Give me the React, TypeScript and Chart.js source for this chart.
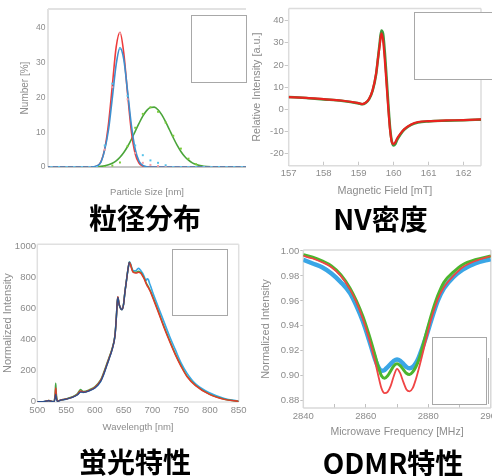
import React, { useEffect, useRef } from 'react';
import { Chart, registerables } from 'chart.js';

Chart.register(...registerables);

// ---------- Panel 1: particle size distribution ----------
const PS_DOT_X = [0, 1, 2, 3, 4, 5, 6, 7, 8, 9, 10, 11, 12, 13, 14, 15, 16, 17, 18, 19, 20, 21, 22, 23, 24, 25];
const PS_BLUE_DOTS = [0, 0, 0, 0, 0, 0, 0, 6.2, 24, 34, 20.5, 6.2, 3.4, 1.9, 1.2, 0.5, 0, 0, 0, 0, 0, 0, 0, 0, 0, 0];
const PS_RED_DOTS = [0, 0, 0, 0, 0, 0, 0, 5, 23, 38.5, 19.5, 4, 1.2, 0.6, 0.3, 0, 0, 0, 0, 0, 0, 0, 0, 0, 0, 0];
const PS_GREEN_DOTS = [0, 0, 0, 0, 0, 0, 0, 0, 0.4, 1.3, 6, 11.3, 15.3, 17.2, 15.9, 12.8, 9, 5.3, 2.4, 0.8, 0, 0, 0, 0, 0, 0];
const PS_CURVE_X = [-0.45, 4, 5, 5.5, 6, 6.5, 7, 7.5, 8, 8.5, 9, 9.5, 10, 10.5, 11, 11.5, 12, 12.5, 13, 13.5, 14, 14.5, 15, 15.5, 16, 16.5, 17, 17.5, 18, 18.5, 19, 19.5, 20, 21, 22, 25.55];
const PS_RED_CURVE = [0, 0, 0, 0.05, 0.3, 1.5, 5.2, 12.5, 23.5, 34.5, 38.8, 32.8, 21.1, 10.2, 3.8, 1.1, 0.25, 0.03, 0, 0, 0, 0, 0, 0, 0, 0, 0, 0, 0, 0, 0, 0, 0, 0, 0, 0];
const PS_BLUE_CURVE = [0, 0, 0, 0.06, 0.35, 1.4, 5.0, 10.8, 20.0, 29.5, 34.3, 31.0, 21.8, 12.0, 5.1, 1.7, 0.45, 0.09, 0, 0, 0, 0, 0, 0, 0, 0, 0, 0, 0, 0, 0, 0, 0, 0, 0, 0];
const PS_GREEN_CURVE = [0, 0, 0.01, 0.03, 0.09, 0.18, 0.34, 0.62, 1.08, 1.78, 2.79, 4.16, 5.9, 7.98, 10.26, 12.56, 14.64, 16.24, 17.15, 17.23, 16.48, 15.0, 13.0, 10.73, 8.42, 6.29, 4.48, 3.03, 1.95, 1.2, 0.7, 0.39, 0.21, 0.05, 0, 0];
const PS_Y_TICKS = [0, 10, 20, 30, 40];

// ---------- Panel 2: EPR (NV density) ----------
const EPR_X = [157, 157.5, 158, 158.5, 159, 159.1, 159.2, 159.3, 159.4, 159.5, 159.55, 159.6, 159.65, 159.7, 159.75, 159.8, 159.85, 159.9, 159.95, 160, 160.05, 160.1, 160.2, 160.3, 160.5, 160.7, 161, 161.5, 162, 162.5];
const EPR_RED = [5.5, 5.2, 4.6, 4.0, 2.8, 2.4, 3.0, 4.8, 8.7, 16.2, 22.5, 28.5, 34.3, 31.0, 22.0, 11.0, 0.0, -9.5, -14.8, -15.6, -14.8, -13.1, -10.8, -9.0, -6.8, -5.7, -5.3, -5.0, -4.8, -4.5];
const EPR_GREEN = [5.6, 5.1, 4.5, 3.9, 2.7, 2.3, 2.9, 4.6, 8.4, 15.8, 22.5, 29.5, 35.6, 34.0, 25.5, 14.0, 2.0, -8.5, -14.5, -16.3, -15.6, -13.8, -11.2, -9.2, -7.0, -5.9, -5.4, -5.1, -4.9, -4.6];
const EPR_X_TICKS = [157, 158, 159, 160, 161, 162];
const EPR_Y_TICKS = [-20, -10, 0, 10, 20, 30, 40];

// ---------- Panel 3: fluorescence spectrum ----------
const PL_X = [500, 510, 520, 525, 529, 531, 532, 533, 535, 540, 550, 560, 570, 575, 578, 580, 590, 600, 610, 615, 620, 625, 630, 635, 637, 639, 640, 642, 645, 647, 650, 652, 655, 658, 660, 662, 664, 666, 668, 670, 673, 676, 678, 680, 683, 686, 689, 691, 693, 695, 697, 700, 710, 720, 730, 740, 750, 760, 775, 800, 825, 850];
const PL_RED = [0, 0, 7, 2, 0, 40, 88, 40, 3, 10, 17, 28, 48, 68, 66, 62, 72, 92, 135, 178, 230, 282, 338, 425, 520, 640, 675, 630, 600, 592, 628, 695, 780, 860, 895, 880, 855, 835, 830, 828, 828, 832, 830, 826, 808, 788, 760, 745, 733, 718, 703, 675, 579, 479, 387, 301, 226, 162, 103, 45, 15, 2];
const PL_GREEN = [0, 0, 7, 2, 0, 55, 118, 55, 3, 10, 18, 30, 52, 78, 70, 65, 76, 96, 140, 184, 236, 288, 342, 428, 522, 640, 672, 628, 598, 592, 630, 698, 782, 862, 897, 882, 858, 838, 834, 832, 834, 838, 835, 830, 812, 792, 766, 752, 740, 724, 708, 681, 585, 485, 393, 306, 231, 166, 106, 47, 16, 2];
const PL_LIGHTBLUE = [0, 0, 6, 2, 0, 25, 48, 25, 2, 9, 16, 27, 45, 62, 62, 60, 70, 88, 130, 172, 225, 278, 335, 425, 520, 640, 670, 628, 598, 592, 628, 695, 780, 860, 900, 888, 865, 845, 842, 842, 848, 858, 852, 842, 826, 802, 778, 790, 785, 762, 742, 708, 611, 515, 419, 333, 248, 184, 115, 56, 21, 3];
const PL_NAVY_X = [500, 510, 520, 525, 529, 531, 532, 533, 535, 540, 550, 560, 570, 575, 578, 580, 590, 600, 610, 615, 620, 625, 630, 635, 637, 639, 640, 642, 645, 647, 650, 652, 655, 658, 660];
const PL_NAVY = [0, 0, 6, 2, 0, 25, 48, 25, 2, 9, 16, 27, 45, 62, 62, 60, 70, 88, 130, 172, 225, 278, 335, 425, 520, 640, 670, 628, 598, 592, 628, 695, 780, 860, 898];
const PL_X_TICKS = [500, 550, 600, 650, 700, 750, 800, 850];
const PL_Y_TICKS = [0, 200, 400, 600, 800, 1000];
const PL_Y_LABELS = ['0', '200', '400', '600', '800', '1000'];

// ---------- Panel 4: ODMR ----------
const OD_X = [2840, 2843, 2846, 2849, 2852, 2855, 2857, 2859, 2861, 2863, 2864, 2865, 2866, 2867, 2868, 2869, 2870, 2871, 2872, 2873, 2874, 2875, 2876, 2877, 2879, 2881, 2883, 2885, 2888, 2891, 2895, 2900];
const OD_RED = [0.996, 0.994, 0.991, 0.987, 0.980, 0.969, 0.959, 0.946, 0.930, 0.911, 0.900, 0.890, 0.886, 0.887, 0.892, 0.900, 0.9055, 0.902, 0.895, 0.889, 0.8875, 0.890, 0.897, 0.906, 0.926, 0.946, 0.961, 0.971, 0.980, 0.987, 0.992, 0.996];
const OD_GREEN = [0.997, 0.995, 0.992, 0.988, 0.981, 0.970, 0.960, 0.948, 0.933, 0.916, 0.907, 0.900, 0.898, 0.900, 0.904, 0.908, 0.9095, 0.908, 0.905, 0.902, 0.901, 0.903, 0.907, 0.913, 0.931, 0.949, 0.964, 0.975, 0.983, 0.989, 0.993, 0.996];
const OD_BLUE = [0.993, 0.990, 0.987, 0.982, 0.975, 0.966, 0.956, 0.944, 0.929, 0.913, 0.907, 0.904, 0.9045, 0.907, 0.9095, 0.912, 0.913, 0.912, 0.9095, 0.907, 0.906, 0.907, 0.910, 0.915, 0.929, 0.945, 0.960, 0.970, 0.979, 0.985, 0.990, 0.9935];
const OD_X_TICKS = [2840, 2850, 2860, 2870, 2880, 2890, 2900];
const OD_X_LABELS = ['2840', '', '2860', '', '2880', '', '2900'];
const OD_Y_TICKS = [0.88, 0.9, 0.92, 0.94, 0.96, 0.98, 1.0];
const OD_Y_LABELS = ['0.88', '0.90', '0.92', '0.94', '0.96', '0.98', '1.00'];

// ---------- helpers ----------
const FONT = '"Liberation Sans", Arial, sans-serif';
const NARROW = '"Liberation Sans Narrow", "Liberation Sans", Arial, sans-serif';
const GREY = '#8c8c8c';

const pts = (xs: number[], ys: number[]) => xs.map((x, i) => ({ x, y: ys[i] }));
const fixAxis = (size: number, horizontal: boolean) => (s: any) => {
  if (horizontal) s.height = size; else s.width = size;
  s.paddingLeft = 0; s.paddingRight = 0; s.paddingTop = 0; s.paddingBottom = 0;
};
const setTicks = (values: number[]) => (s: any) => { s.ticks = values.map((v) => ({ value: v })); };

const framePlugin = {
  id: 'frame',
  beforeDatasetsDraw(chart: any, _args: any, opts: any) {
    const { ctx, chartArea: a } = chart;
    ctx.save();
    ctx.lineWidth = opts.width || 1.5;
    const sides: string = opts.sides || 'tlbr';
    const seg = (x1: number, y1: number, x2: number, y2: number, c: string) => {
      ctx.strokeStyle = c; ctx.beginPath(); ctx.moveTo(x1, y1); ctx.lineTo(x2, y2); ctx.stroke();
    };
    if (sides.includes('t')) seg(a.left, a.top, a.right, a.top, opts.color);
    if (sides.includes('l')) seg(a.left, a.top, a.left, a.bottom, opts.color);
    if (sides.includes('r')) seg(a.right, a.top, a.right, a.bottom, opts.color);
    if (sides.includes('b')) seg(a.left, a.bottom, a.right, a.bottom, opts.bottomColor || opts.color);
    ctx.restore();
  },
};

const NO_GRID = { display: false, drawTicks: false, drawOnChartArea: false };

const lineDs = (data: any[], color: string, width: number, order: number) => ({
  data, borderColor: color, backgroundColor: color, borderWidth: width, pointRadius: 0,
  cubicInterpolationMode: 'monotone', fill: false, order,
});
const dotDs = (data: any[], color: string, order: number) => ({
  data, showLine: false, pointStyle: 'rect', pointRadius: 1.4, pointBorderWidth: 0,
  pointBackgroundColor: color, borderColor: color, backgroundColor: color, order,
});

const baseOptions = (padding: any, frame: any, scales: any) => ({
  animation: false, responsive: false, maintainAspectRatio: false, events: [],
  layout: { padding },
  plugins: { legend: { display: false }, tooltip: { enabled: false }, frame },
  scales,
});

// ---------- configs ----------
const cfgParticle = () => ({
  type: 'line',
  data: {
    datasets: [
      lineDs(pts(PS_CURVE_X, PS_GREEN_CURVE), '#4aa53a', 1.6, 9),
      dotDs(pts(PS_DOT_X, PS_GREEN_DOTS), '#7ccc3c', 8),
      lineDs(pts(PS_CURVE_X, PS_RED_CURVE), '#ee3b3b', 1.6, 7),
      lineDs(pts(PS_CURVE_X, PS_BLUE_CURVE), '#3d8fcf', 1.6, 6),
      dotDs(pts(PS_DOT_X, PS_RED_DOTS), '#f3a0a6', 5),
      dotDs(pts(PS_DOT_X, PS_BLUE_DOTS), '#55c2ea', 4),
    ],
  },
  options: baseOptions({ left: 0, top: 9, right: 0, bottom: 0 },
    { color: '#e2e2e2', bottomColor: '#c6c6c6', width: 2, sides: 'tlb' },
    {
      x: {
        type: 'linear', min: -0.45, max: 25.55,
        ticks: { display: false }, grid: NO_GRID, border: { display: false },
        title: { display: true, text: 'Particle Size [nm]', color: GREY, font: { family: FONT, size: 9.5 }, padding: { top: 0, bottom: 1.5 } },
        afterFit: fixAxis(33, true),
      },
      y: {
        type: 'linear', min: 0, max: 45.5,
        afterBuildTicks: setTicks(PS_Y_TICKS),
        ticks: { color: GREY, font: { family: FONT, size: 8.5 }, padding: 2.5 },
        grid: NO_GRID, border: { display: false },
        title: { display: true, text: 'Number [%]', color: GREY, font: { family: FONT, size: 10 }, padding: { top: 19, bottom: 0 } },
        afterFit: fixAxis(48, false),
      },
    }),
  plugins: [framePlugin],
});

const cfgEPR = () => ({
  type: 'line',
  data: {
    datasets: [
      lineDs(pts(EPR_X, EPR_GREEN), '#3d9a3d', 2.6, 2),
      lineDs(pts(EPR_X, EPR_RED), '#e8231f', 2.2, 1),
    ],
  },
  options: baseOptions({ left: 0, top: 8.5, right: 11, bottom: 0 },
    { color: '#dcdcdc', width: 1.5, sides: 'tlbr' },
    {
      x: {
        type: 'linear', min: 157, max: 162.5,
        afterBuildTicks: setTicks(EPR_X_TICKS),
        ticks: { color: GREY, font: { family: FONT, size: 9.5 }, padding: 6, maxRotation: 0 },
        grid: { display: true, drawOnChartArea: false, drawTicks: true, tickLength: -4, color: '#c8c8c8' },
        border: { display: false },
        title: { display: true, text: 'Magnetic Field [mT]', color: GREY, font: { family: FONT, size: 10.8 }, padding: { top: 0, bottom: 2.6 } },
        afterFit: fixAxis(34.3, true),
      },
      y: {
        type: 'linear', min: -25.4, max: 45.5,
        afterBuildTicks: setTicks(EPR_Y_TICKS),
        ticks: { color: GREY, font: { family: FONT, size: 9.5 }, padding: 1 },
        grid: { display: true, drawOnChartArea: false, drawTicks: true, tickLength: 4, color: '#c8c8c8' },
        border: { display: false },
        title: { display: true, text: 'Relative Intensity [a.u.]', color: GREY, font: { family: FONT, size: 10.8 }, padding: { top: 0.2, bottom: 0 } },
        afterFit: fixAxis(38.7, false),
      },
    }),
  plugins: [framePlugin],
});

const cfgPL = () => ({
  type: 'line',
  data: {
    datasets: [
      lineDs(pts(PL_X, PL_LIGHTBLUE), '#3aa6e6', 1.6, 4),
      lineDs(pts(PL_X, PL_GREEN), '#45a545', 1.5, 3),
      lineDs(pts(PL_X, PL_RED), '#e03a2a', 1.5, 2),
      lineDs(pts(PL_NAVY_X, PL_NAVY), '#2d4f8c', 1.3, 1),
    ],
  },
  options: baseOptions({ left: 0, top: 8.3, right: 11.3, bottom: 0 },
    { color: '#e0e0e0', width: 1.5, sides: 'tlbr' },
    {
      x: {
        type: 'linear', min: 500, max: 850,
        afterBuildTicks: setTicks(PL_X_TICKS),
        ticks: { color: GREY, font: { family: NARROW, size: 9.5 }, padding: 3, maxRotation: 0 },
        grid: NO_GRID, border: { display: false },
        title: { display: true, text: 'Wavelength [nm]', color: GREY, font: { family: NARROW, size: 9.5 }, padding: { top: 0, bottom: 42.5 } },
        afterFit: fixAxis(74, true),
      },
      y: {
        type: 'linear', min: -2, max: 1012,
        afterBuildTicks: setTicks(PL_Y_TICKS),
        ticks: { color: GREY, font: { family: NARROW, size: 9.5 }, padding: 1.3, callback: (_v: any, i: number) => PL_Y_LABELS[i] },
        grid: NO_GRID, border: { display: false },
        title: { display: true, text: 'Normalized Intensity', color: GREY, font: { family: FONT, size: 11 }, padding: { top: 1.7, bottom: 0 } },
        afterFit: fixAxis(37.3, false),
      },
    }),
  plugins: [framePlugin],
});

const cfgODMR = () => ({
  type: 'line',
  data: {
    datasets: [
      lineDs(pts(OD_X, OD_BLUE), '#3aa6e6', 4.5, 3),
      lineDs(pts(OD_X, OD_GREEN), '#4cb52e', 3, 2),
      lineDs(pts(OD_X, OD_RED), '#f04545', 1.8, 1),
    ],
  },
  options: baseOptions({ left: 0, top: 14, right: 19.2, bottom: 0 },
    { color: '#d8d8d8', width: 1.5, sides: 'tlbr' },
    {
      x: {
        type: 'linear', min: 2840, max: 2900,
        afterBuildTicks: setTicks(OD_X_TICKS),
        ticks: { color: GREY, font: { family: FONT, size: 9.5 }, padding: 6.3, maxRotation: 0, autoSkip: false, callback: (_v: any, i: number) => OD_X_LABELS[i] },
        grid: { display: true, drawOnChartArea: false, drawTicks: true, tickLength: -4, color: '#c0c0c0' },
        border: { display: false },
        title: { display: true, text: 'Microwave Frequency [MHz]', color: GREY, font: { family: FONT, size: 10.5 }, padding: { top: 0, bottom: 37.3 } },
        afterFit: fixAxis(68, true),
      },
      y: {
        type: 'linear', min: 0.8741, max: 1.0008,
        afterBuildTicks: setTicks(OD_Y_TICKS),
        ticks: { color: GREY, font: { family: FONT, size: 9.5 }, padding: 1, callback: (_v: any, i: number) => OD_Y_LABELS[i] },
        grid: { display: true, drawOnChartArea: false, drawTicks: true, tickLength: 3, color: '#c0c0c0' },
        border: { display: false },
        title: { display: true, text: 'Normalized Intensity', color: GREY, font: { family: FONT, size: 11 }, padding: { top: 9.1, bottom: 0 } },
        afterFit: fixAxis(53.3, false),
      },
    }),
  plugins: [framePlugin],
});

function ChartCanvas({ left, top, width, height, build }: any) {
  const ref = useRef<HTMLCanvasElement>(null);
  useEffect(() => {
    const chart = new Chart(ref.current as HTMLCanvasElement, build());
    return () => chart.destroy();
  }, []);
  return (
    <canvas ref={ref} width={width} height={height}
      style={{ position: 'absolute', left, top, width, height, display: 'block' }} />
  );
}

function LegendBox({ left, top, width, height }: any) {
  return (
    <div style={{ position: 'absolute', left, top, width, height, boxSizing: 'border-box', border: '1px solid #a8a8a8', background: '#fff' }} />
  );
}

function Caption({ text, cx, cy }: any) {
  return (
    <div style={{
      position: 'absolute', left: cx - 120, top: cy - 15, width: 240, textAlign: 'center',
      fontFamily: '"Noto Sans CJK JP", "Noto Sans CJK SC", sans-serif', fontWeight: 700,
      fontSize: 28, lineHeight: '28px', color: '#000', whiteSpace: 'nowrap',
    }}>{text}</div>
  );
}

export default function App() {
  return (
    <div style={{ position: 'fixed', left: 0, top: 0, width: 492, height: 476, overflow: 'hidden', background: '#fff' }}>
      <ChartCanvas left={0} top={0} width={250} height={200} build={cfgParticle} />
      <ChartCanvas left={250} top={0} width={242} height={200} build={cfgEPR} />
      <ChartCanvas left={0} top={236} width={250} height={240} build={cfgPL} />
      <ChartCanvas left={250} top={236} width={260} height={240} build={cfgODMR} />
      <LegendBox left={190.7} top={15} width={56} height={68} />
      <LegendBox left={413.7} top={11.7} width={100} height={68} />
      <LegendBox left={172} top={249} width={56} height={67} />
      <LegendBox left={431.5} top={336.5} width={55.2} height={68} />
      <div style={{ position: 'absolute', left: 488, top: 358, width: 1, height: 46, background: '#b0b0b0' }} />
      <Caption text="粒径分布" cx={145} cy={218} />
      <Caption text="NV密度" cx={380.5} cy={219} />
      <Caption text="蛍光特性" cx={135} cy={462} />
      <Caption text="ODMR特性" cx={393} cy={463} />
    </div>
  );
}
